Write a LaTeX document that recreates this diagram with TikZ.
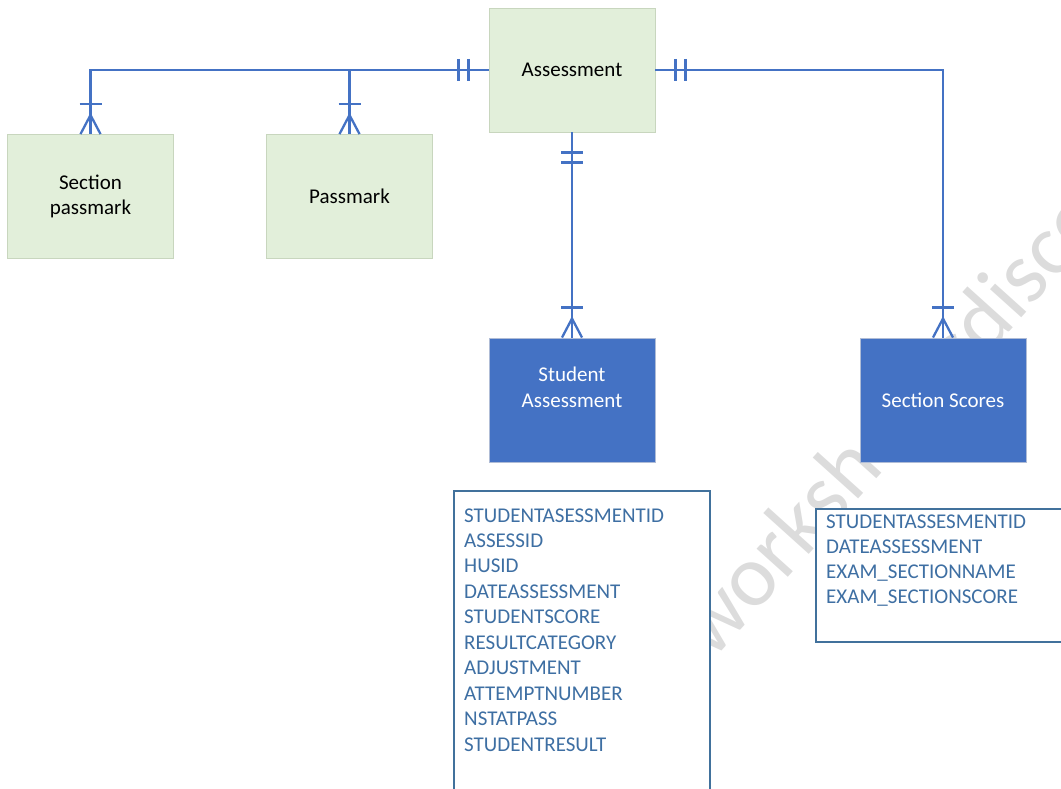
\documentclass[tikz,border=0pt]{standalone}
\usepackage{fontspec}
\setmainfont{Carlito}
\usetikzlibrary{calc}
\definecolor{lnblue}{HTML}{4472C4}
\definecolor{entgreen}{HTML}{E2EFDA}
\definecolor{entgreenb}{HTML}{C8D6BE}
\definecolor{entblueb}{HTML}{AFBCD6}
\definecolor{attrb}{HTML}{41719C}
\definecolor{attrt}{HTML}{3E6FA3}
\definecolor{wmgray}{HTML}{DCDCDC}
\tikzset{
  ent/.style={rectangle, minimum width=166pt, minimum height=124pt, inner sep=0pt, align=center,
    font=\fontsize{21}{25.5}\selectfont, line width=0.9pt},
  greenent/.style={ent, fill=entgreen, draw=entgreenb, text=black},
  blueent/.style={ent, fill=lnblue, draw=entblueb, text=white},
  attrbox/.style={rectangle, draw=attrb, fill=white, line width=1.6pt, inner sep=0pt, anchor=north west},
  attrtext/.style={anchor=base west, inner sep=0pt, text=attrt, font=\fontsize{21}{25.5}\selectfont},
  conn/.style={draw=lnblue, line width=2.3pt},
  tick/.style={draw=lnblue, line width=2.3pt},
}
\begin{document}
\begin{tikzpicture}[x=1pt,y=-1pt]
\useasboundingbox (0,0) rectangle (1061,789);
\clip (0,0) rectangle (1061,789);
% watermark
\node[rotate=48, anchor=base west, inner sep=0pt, text=wmgray, font=\fontsize{88}{88}\selectfont] (wmark) at (712,662) {worksheetsdiscover};
% entities
\node[greenent] (asm) at (572,70) {Assessment};
\node[greenent] (secpm) at (90.5,196.5) {Section\\passmark};
\node[greenent] (pm) at (349.5,196.5) {Passmark};
\node[blueent] (stud) at (572,400) {Student\\Assessment\\~};
\node[blueent] (secs) at (943,400) {Section Scores};
% attribute boxes
\node[attrbox, minimum width=256pt, minimum height=330pt] (attr1) at (453,490) {};
\node[attrbox, minimum width=260pt, minimum height=133pt] (attr2) at (815,508) {};
\foreach \t [count=\i] in {STUDENTASESSMENTID,ASSESSID,HUSID,DATEASSESSMENT,STUDENTSCORE,RESULTCATEGORY,ADJUSTMENT,ATTEMPTNUMBER,NSTATPASS,STUDENTRESULT}
  \node[attrtext] (a1l\i) at (464,{522+25.45*(\i-1)}) {\t};
\foreach \t [count=\i] in {STUDENTASSESMENTID,DATEASSESSMENT,EXAM\_SECTIONNAME,EXAM\_SECTIONSCORE}
  \node[attrtext] (a2l\i) at (826,{528+25.3*(\i-1)}) {\t};
% connectors
\draw[conn] (asm.west) -| (secpm.north);
\draw[conn] (asm.west) -| (pm.north);
\draw[conn] (asm.east) -| (secs.north);
\draw[conn] (asm.south) -- (stud.north);
% one-and-only-one marks near Assessment
\foreach \d in {20,30} {
  \draw[tick] ($(asm.west)+(-\d,-11)$) -- ($(asm.west)+(-\d,11)$);
  \draw[tick] ($(asm.east)+(\d,-11)$) -- ($(asm.east)+(\d,11)$);
  \draw[tick] ($(asm.south)+(-11,\d)$) -- ($(asm.south)+(11,\d)$);
}
% one-or-many marks
\foreach \n in {secpm,pm,stud,secs} {
  \draw[tick] ($(\n.north)+(-11,-30)$) -- ($(\n.north)+(11,-30)$);
  \draw[tick, line join=miter] ($(\n.north)+(-10,0)$) -- ($(\n.north)+(0,-19)$) -- ($(\n.north)+(10,0)$);
}
\end{tikzpicture}
\end{document}
